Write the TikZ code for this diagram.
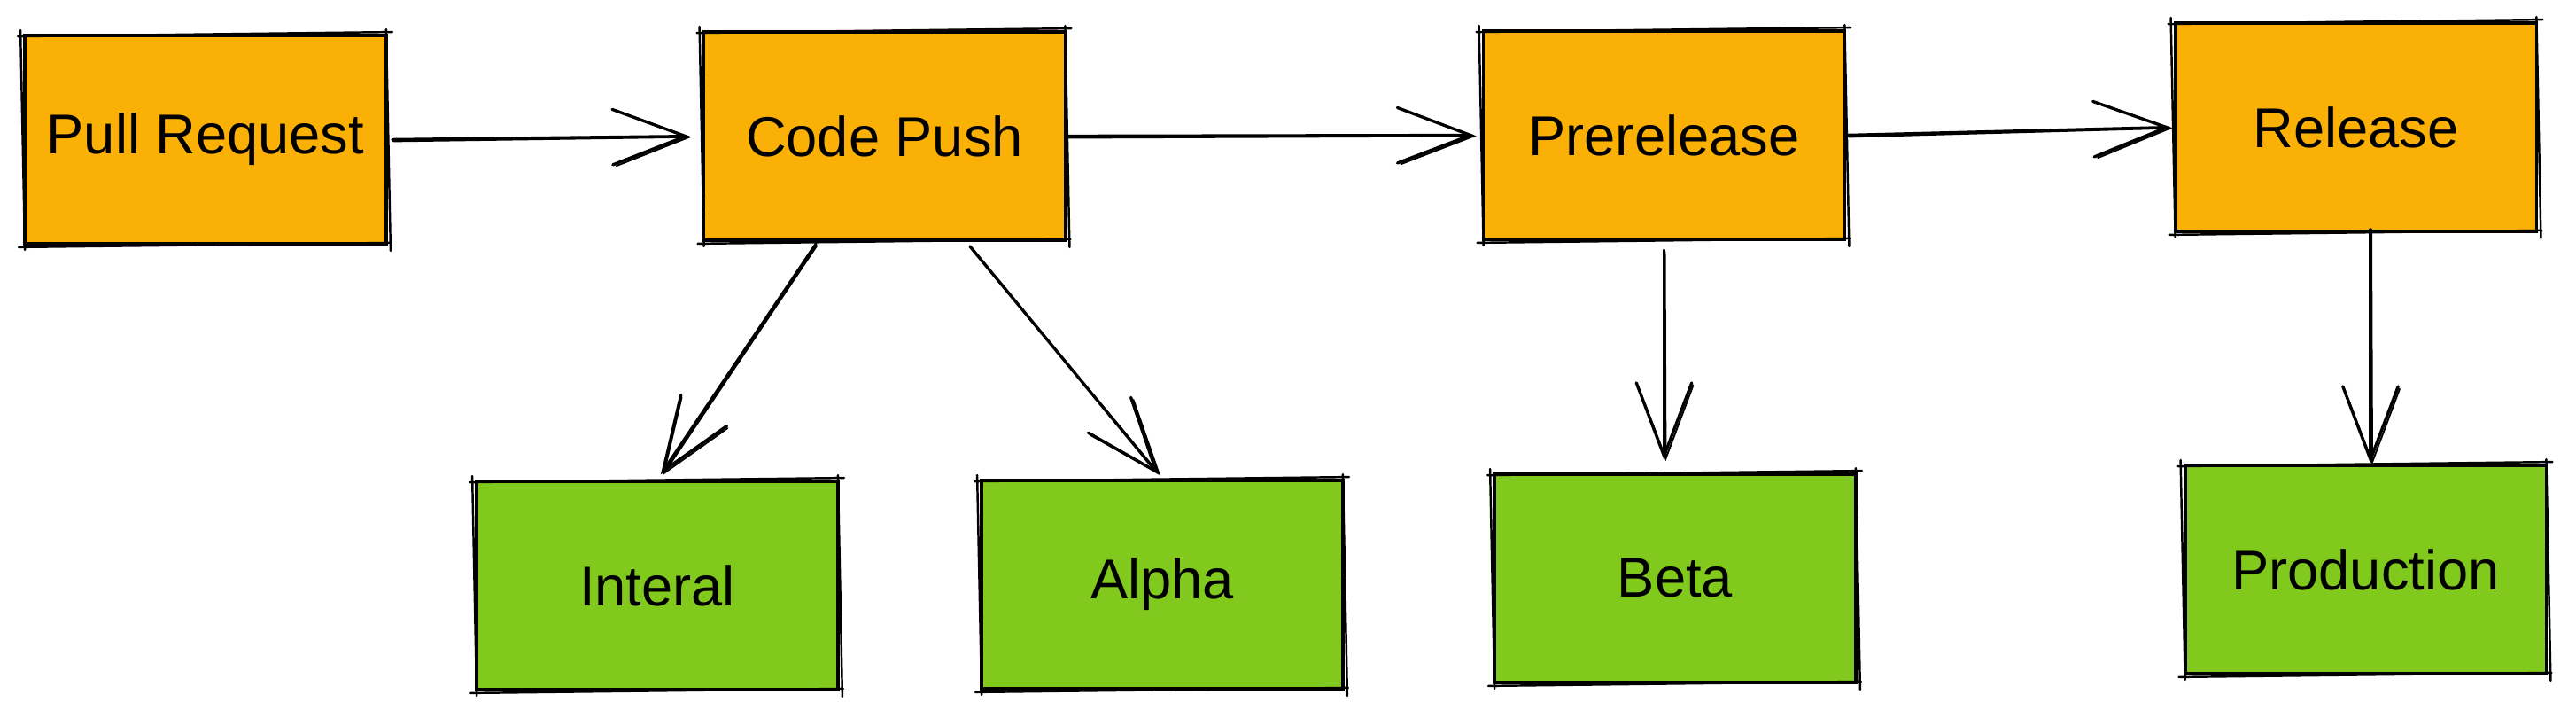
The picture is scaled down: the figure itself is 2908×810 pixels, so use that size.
\documentclass[tikz,border=0pt]{standalone}
\usepackage{fontspec}
\setmainfont{Liberation Sans}
\usetikzlibrary{arrows.meta}
\definecolor{boxorange}{HTML}{FAB005}
\definecolor{boxgreen}{HTML}{82C91E}
\tikzset{
  stage/.style={draw=black, line width=2.2pt, fill=boxorange, minimum width=8.16cm,
    minimum height=4.7cm, inner sep=0pt, font=\fontsize{36}{40}\selectfont},
  target/.style={stage, fill=boxgreen},
  skline/.style={line width=1.4pt, line cap=round},
  conn/.style={line width=1.9pt, line cap=round, line join=round,
    -{Straight Barb[length=1.65cm, width=1.25cm, line cap=round]}},
  conntwo/.style={conn, line width=1.1pt},
}
\newcommand\roughbox[1]{%
  \draw[skline] ([shift={(-6,3)}]#1.north west) -- ([shift={(5,-2)}]#1.north east);
  \draw[skline] ([shift={(-2,-5)}]#1.north east) -- ([shift={(3,6)}]#1.south east);
  \draw[skline] ([shift={(4,-3)}]#1.south east) -- ([shift={(-5,2)}]#1.south west);
  \draw[skline] ([shift={(2,5)}]#1.south west) -- ([shift={(-3,-4)}]#1.north west);
}
\newcommand\roughconn[3]{%
  \draw[conn, #3] (#1) -- (#2);
  \draw[conntwo, #3] ([shift={(1,2)}]#1) -- ([shift={(2,1)}]#2);
}
\begin{document}
\begin{tikzpicture}[x=0.02cm, y=-0.02cm]
\useasboundingbox (0,0) rectangle (2908,810);

% stages
\node[stage] (pr)   at (232,157.5)  {Pull Request};
\node[stage] (cp)   at (998.5,153.5) {Code Push};
\node[stage] (pre)  at (1878.5,152.5) {Prerelease};
\node[stage] (rel)  at (2659.5,143.5) {Release};
% targets
\node[target] (int)  at (742,660.5)  {Interal};
\node[target] (alp)  at (1312,659.5) {Alpha};
\node[target] (beta) at (1891,652.5) {Beta};
\node[target] (prod) at (2670.5,642.5) {Production};

\roughbox{pr}\roughbox{cp}\roughbox{pre}\roughbox{rel}
\roughbox{int}\roughbox{alp}\roughbox{beta}\roughbox{prod}

% connector end points
\coordinate (cpL) at ([xshift=-1.55cm, yshift=-0.05cm]cp.south);
\coordinate (cpR) at ([xshift=1.93cm, yshift=-0.1cm]cp.south);
\coordinate (preS) at ([yshift=-0.2cm]pre.south);
\coordinate (betaN) at (preS |- beta.north);
\coordinate (relS) at ([xshift=0.33cm, yshift=0.08cm]rel.south);
\coordinate (prodN) at (relS |- prod.north);

\roughconn{pr.east}{cp.west}{shorten <=0.1cm, shorten >=0.28cm}
\roughconn{cp.east}{pre.west}{shorten >=0.16cm}
\roughconn{pre.east}{rel.west}{shorten <=0.04cm, shorten >=0.06cm}
\roughconn{cpL}{int.north}{shorten >=0.14cm}
\roughconn{cpR}{alp.north}{shorten >=0.12cm}
\roughconn{preS}{betaN}{shorten >=0.28cm}
\roughconn{relS}{prodN}{}
\end{tikzpicture}
\end{document}
